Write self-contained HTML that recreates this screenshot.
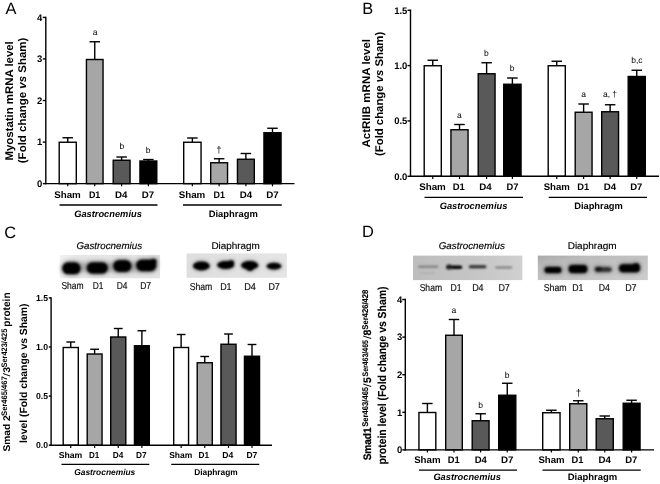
<!DOCTYPE html>
<html lang="en"><head><meta charset="utf-8"><title>Figure</title>
<style>html,body{margin:0;padding:0;background:#fff}body{width:660px;height:484px;overflow:hidden}svg{display:block;text-rendering:geometricPrecision;font-family:'Liberation Sans', sans-serif}</style>
</head><body>
<svg width="660" height="484" viewBox="0 0 660 484">
<defs>
<filter id="b1" x="-30%" y="-60%" width="160%" height="220%"><feGaussianBlur stdDeviation="1.25"/></filter>
<filter id="bh" x="-40%" y="-100%" width="180%" height="300%"><feGaussianBlur stdDeviation="2.2"/></filter>
<filter id="b2" x="-30%" y="-100%" width="160%" height="300%"><feGaussianBlur stdDeviation="0.85"/></filter>
<filter id="b3" x="-10%" y="-10%" width="120%" height="120%"><feGaussianBlur stdDeviation="0.6"/></filter>
<linearGradient id="gCG" x1="0" y1="0" x2="1" y2="0"><stop offset="0" stop-color="#f1f1f1"/><stop offset="0.15" stop-color="#e6e6e6"/><stop offset="1" stop-color="#e2e2e2"/></linearGradient>
<linearGradient id="gCD" x1="0" y1="0" x2="1" y2="0"><stop offset="0" stop-color="#dedede"/><stop offset="1" stop-color="#e5e5e5"/></linearGradient>
<linearGradient id="gDG" x1="0" y1="0" x2="1" y2="0"><stop offset="0" stop-color="#bdbdbd"/><stop offset="0.6" stop-color="#c6c6c6"/><stop offset="1" stop-color="#d0d0d0"/></linearGradient>
<linearGradient id="gDD" x1="0" y1="0" x2="1" y2="1"><stop offset="0" stop-color="#a9a9a9"/><stop offset="0.25" stop-color="#bcbcbc"/><stop offset="1" stop-color="#cdcdcd"/></linearGradient>
</defs>
<rect width="660" height="484" fill="#fff"/>
<g id="panelA">
<line x1="67.75" y1="137.75" x2="67.75" y2="142.25" stroke="#000" stroke-width="1.4"/>
<line x1="62.50" y1="137.75" x2="73.00" y2="137.75" stroke="#000" stroke-width="1.4"/>
<rect x="59.20" y="142.25" width="17.10" height="41.40" fill="#ffffff" stroke="#000" stroke-width="1.4"/>
<line x1="67.75" y1="183.65" x2="67.75" y2="186.35" stroke="#000" stroke-width="1.2"/>
<line x1="94.75" y1="41.75" x2="94.75" y2="59.50" stroke="#000" stroke-width="1.4"/>
<line x1="89.50" y1="41.75" x2="100.00" y2="41.75" stroke="#000" stroke-width="1.4"/>
<rect x="86.45" y="59.50" width="16.60" height="124.15" fill="#a6a6a6" stroke="#000" stroke-width="1.4"/>
<line x1="94.75" y1="183.65" x2="94.75" y2="186.35" stroke="#000" stroke-width="1.2"/>
<line x1="121.62" y1="157.00" x2="121.62" y2="160.25" stroke="#000" stroke-width="1.4"/>
<line x1="116.38" y1="157.00" x2="126.88" y2="157.00" stroke="#000" stroke-width="1.4"/>
<rect x="113.20" y="160.25" width="16.85" height="23.40" fill="#595959" stroke="#000" stroke-width="1.4"/>
<line x1="121.62" y1="183.65" x2="121.62" y2="186.35" stroke="#000" stroke-width="1.2"/>
<line x1="148.38" y1="159.55" x2="148.38" y2="161.00" stroke="#000" stroke-width="1.4"/>
<line x1="143.12" y1="159.55" x2="153.62" y2="159.55" stroke="#000" stroke-width="1.4"/>
<rect x="139.95" y="161.00" width="16.85" height="22.65" fill="#000000" stroke="#000" stroke-width="1.4"/>
<line x1="148.38" y1="183.65" x2="148.38" y2="186.35" stroke="#000" stroke-width="1.2"/>
<line x1="192.38" y1="138.00" x2="192.38" y2="142.25" stroke="#000" stroke-width="1.4"/>
<line x1="187.12" y1="138.00" x2="197.62" y2="138.00" stroke="#000" stroke-width="1.4"/>
<rect x="183.70" y="142.25" width="17.35" height="41.40" fill="#ffffff" stroke="#000" stroke-width="1.4"/>
<line x1="192.38" y1="183.65" x2="192.38" y2="186.35" stroke="#000" stroke-width="1.2"/>
<line x1="219.12" y1="158.75" x2="219.12" y2="162.75" stroke="#000" stroke-width="1.4"/>
<line x1="213.88" y1="158.75" x2="224.38" y2="158.75" stroke="#000" stroke-width="1.4"/>
<rect x="210.70" y="162.75" width="16.85" height="20.90" fill="#a6a6a6" stroke="#000" stroke-width="1.4"/>
<line x1="219.12" y1="183.65" x2="219.12" y2="186.35" stroke="#000" stroke-width="1.2"/>
<line x1="245.88" y1="153.50" x2="245.88" y2="159.25" stroke="#000" stroke-width="1.4"/>
<line x1="240.62" y1="153.50" x2="251.12" y2="153.50" stroke="#000" stroke-width="1.4"/>
<rect x="237.45" y="159.25" width="16.85" height="24.40" fill="#595959" stroke="#000" stroke-width="1.4"/>
<line x1="245.88" y1="183.65" x2="245.88" y2="186.35" stroke="#000" stroke-width="1.2"/>
<line x1="272.50" y1="128.25" x2="272.50" y2="132.75" stroke="#000" stroke-width="1.4"/>
<line x1="267.25" y1="128.25" x2="277.75" y2="128.25" stroke="#000" stroke-width="1.4"/>
<rect x="263.95" y="132.75" width="17.10" height="50.90" fill="#000000" stroke="#000" stroke-width="1.4"/>
<line x1="272.50" y1="183.65" x2="272.50" y2="186.35" stroke="#000" stroke-width="1.2"/>
<line x1="45.80" y1="16.70" x2="45.80" y2="184.35" stroke="#000" stroke-width="1.4"/>
<line x1="45.10" y1="183.65" x2="294.50" y2="183.65" stroke="#000" stroke-width="1.4"/>
<line x1="42.80" y1="183.65" x2="45.80" y2="183.65" stroke="#000" stroke-width="1.4"/>
<text font-size="9.5" font-weight="bold" text-anchor="end" x="42.40" y="187.02">0</text>
<line x1="42.80" y1="142.09" x2="45.80" y2="142.09" stroke="#000" stroke-width="1.4"/>
<text font-size="9.5" font-weight="bold" text-anchor="end" x="42.40" y="145.46">1</text>
<line x1="42.80" y1="100.53" x2="45.80" y2="100.53" stroke="#000" stroke-width="1.4"/>
<text font-size="9.5" font-weight="bold" text-anchor="end" x="42.40" y="103.90">2</text>
<line x1="42.80" y1="58.97" x2="45.80" y2="58.97" stroke="#000" stroke-width="1.4"/>
<text font-size="9.5" font-weight="bold" text-anchor="end" x="42.40" y="62.34">3</text>
<line x1="42.80" y1="17.41" x2="45.80" y2="17.41" stroke="#000" stroke-width="1.4"/>
<text font-size="9.5" font-weight="bold" text-anchor="end" x="42.40" y="20.78">4</text>
<text font-size="16.4" x="5.50" y="13.75">A</text>
<text font-size="11.2" font-weight="bold" textLength="119.32" lengthAdjust="spacingAndGlyphs" transform="translate(13.00 160.56) rotate(-90)">Myostatin mRNA level</text>
<text font-size="11.2" font-weight="bold" transform="translate(25.6 163.2) rotate(-90)" textLength="125.6" lengthAdjust="spacingAndGlyphs">(Fold change <tspan font-style="italic">vs</tspan> Sham)</text>
<text font-size="9.5" font-weight="bold" textLength="26.66" lengthAdjust="spacingAndGlyphs" x="54.17" y="197.50">Sham</text>
<text font-size="9.5" font-weight="bold" textLength="11.41" lengthAdjust="spacingAndGlyphs" x="88.92" y="197.50">D1</text>
<text font-size="9.5" font-weight="bold" textLength="12.41" lengthAdjust="spacingAndGlyphs" x="114.92" y="197.50">D4</text>
<text font-size="9.5" font-weight="bold" textLength="12.41" lengthAdjust="spacingAndGlyphs" x="141.67" y="197.50">D7</text>
<text font-size="9.5" font-weight="bold" textLength="26.66" lengthAdjust="spacingAndGlyphs" x="178.67" y="197.50">Sham</text>
<text font-size="9.5" font-weight="bold" textLength="11.36" lengthAdjust="spacingAndGlyphs" x="213.57" y="197.50">D1</text>
<text font-size="9.5" font-weight="bold" textLength="12.41" lengthAdjust="spacingAndGlyphs" x="239.67" y="197.50">D4</text>
<text font-size="9.5" font-weight="bold" textLength="12.46" lengthAdjust="spacingAndGlyphs" x="266.27" y="197.50">D7</text>
<line x1="59.50" y1="205.00" x2="157.50" y2="205.00" stroke="#000" stroke-width="1.4"/>
<line x1="183.00" y1="205.00" x2="281.75" y2="205.00" stroke="#000" stroke-width="1.4"/>
<text font-size="9.3" font-weight="bold" font-style="italic" textLength="67.65" lengthAdjust="spacingAndGlyphs" x="74.17" y="216.90">Gastrocnemius</text>
<text font-size="9.3" font-weight="bold" textLength="49.15" lengthAdjust="spacingAndGlyphs" x="208.67" y="217.00">Diaphragm</text>
<text font-size="8.5" text-anchor="middle" x="95.00" y="35.00">a</text>
<text font-size="8.5" text-anchor="middle" x="121.75" y="149.25">b</text>
<text font-size="8.5" text-anchor="middle" x="148.00" y="152.50">b</text>
<text font-size="9.6" text-anchor="middle" x="218.90" y="152.60">†</text>
</g>
<g id="panelB">
<line x1="432.75" y1="60.25" x2="432.75" y2="65.75" stroke="#000" stroke-width="1.4"/>
<line x1="427.50" y1="60.25" x2="438.00" y2="60.25" stroke="#000" stroke-width="1.4"/>
<rect x="424.20" y="65.75" width="17.10" height="110.55" fill="#ffffff" stroke="#000" stroke-width="1.4"/>
<line x1="432.75" y1="176.30" x2="432.75" y2="179.00" stroke="#000" stroke-width="1.2"/>
<line x1="459.50" y1="124.50" x2="459.50" y2="129.75" stroke="#000" stroke-width="1.4"/>
<line x1="454.25" y1="124.50" x2="464.75" y2="124.50" stroke="#000" stroke-width="1.4"/>
<rect x="450.95" y="129.75" width="17.10" height="46.55" fill="#a6a6a6" stroke="#000" stroke-width="1.4"/>
<line x1="459.50" y1="176.30" x2="459.50" y2="179.00" stroke="#000" stroke-width="1.2"/>
<line x1="486.62" y1="62.75" x2="486.62" y2="73.75" stroke="#000" stroke-width="1.4"/>
<line x1="481.38" y1="62.75" x2="491.88" y2="62.75" stroke="#000" stroke-width="1.4"/>
<rect x="478.20" y="73.75" width="16.85" height="102.55" fill="#595959" stroke="#000" stroke-width="1.4"/>
<line x1="486.62" y1="176.30" x2="486.62" y2="179.00" stroke="#000" stroke-width="1.2"/>
<line x1="512.38" y1="78.00" x2="512.38" y2="84.25" stroke="#000" stroke-width="1.4"/>
<line x1="507.12" y1="78.00" x2="517.62" y2="78.00" stroke="#000" stroke-width="1.4"/>
<rect x="503.70" y="84.25" width="17.35" height="92.05" fill="#000000" stroke="#000" stroke-width="1.4"/>
<line x1="512.38" y1="176.30" x2="512.38" y2="179.00" stroke="#000" stroke-width="1.2"/>
<line x1="556.75" y1="61.25" x2="556.75" y2="65.75" stroke="#000" stroke-width="1.4"/>
<line x1="551.50" y1="61.25" x2="562.00" y2="61.25" stroke="#000" stroke-width="1.4"/>
<rect x="548.20" y="65.75" width="17.10" height="110.55" fill="#ffffff" stroke="#000" stroke-width="1.4"/>
<line x1="556.75" y1="176.30" x2="556.75" y2="179.00" stroke="#000" stroke-width="1.2"/>
<line x1="583.62" y1="104.00" x2="583.62" y2="112.25" stroke="#000" stroke-width="1.4"/>
<line x1="578.38" y1="104.00" x2="588.88" y2="104.00" stroke="#000" stroke-width="1.4"/>
<rect x="575.20" y="112.25" width="16.85" height="64.05" fill="#a6a6a6" stroke="#000" stroke-width="1.4"/>
<line x1="583.62" y1="176.30" x2="583.62" y2="179.00" stroke="#000" stroke-width="1.2"/>
<line x1="610.12" y1="104.75" x2="610.12" y2="111.75" stroke="#000" stroke-width="1.4"/>
<line x1="604.88" y1="104.75" x2="615.38" y2="104.75" stroke="#000" stroke-width="1.4"/>
<rect x="601.70" y="111.75" width="16.85" height="64.55" fill="#595959" stroke="#000" stroke-width="1.4"/>
<line x1="610.12" y1="176.30" x2="610.12" y2="179.00" stroke="#000" stroke-width="1.2"/>
<line x1="636.75" y1="70.25" x2="636.75" y2="76.50" stroke="#000" stroke-width="1.4"/>
<line x1="631.50" y1="70.25" x2="642.00" y2="70.25" stroke="#000" stroke-width="1.4"/>
<rect x="628.20" y="76.50" width="17.10" height="99.80" fill="#000000" stroke="#000" stroke-width="1.4"/>
<line x1="636.75" y1="176.30" x2="636.75" y2="179.00" stroke="#000" stroke-width="1.2"/>
<line x1="410.50" y1="9.55" x2="410.50" y2="177.00" stroke="#000" stroke-width="1.4"/>
<line x1="409.80" y1="176.30" x2="659.00" y2="176.30" stroke="#000" stroke-width="1.4"/>
<line x1="407.50" y1="176.30" x2="410.50" y2="176.30" stroke="#000" stroke-width="1.4"/>
<text font-size="9.5" font-weight="bold" text-anchor="end" x="407.40" y="179.67">0.0</text>
<line x1="407.50" y1="120.95" x2="410.50" y2="120.95" stroke="#000" stroke-width="1.4"/>
<text font-size="9.5" font-weight="bold" text-anchor="end" x="407.40" y="124.32">0.5</text>
<line x1="407.50" y1="65.60" x2="410.50" y2="65.60" stroke="#000" stroke-width="1.4"/>
<text font-size="9.5" font-weight="bold" text-anchor="end" x="407.40" y="68.97">1.0</text>
<line x1="407.50" y1="10.25" x2="410.50" y2="10.25" stroke="#000" stroke-width="1.4"/>
<text font-size="9.5" font-weight="bold" text-anchor="end" x="407.40" y="13.62">1.5</text>
<text font-size="16.4" x="362.20" y="13.50">B</text>
<text font-size="11.2" font-weight="bold" textLength="108.62" lengthAdjust="spacingAndGlyphs" transform="translate(370.00 147.56) rotate(-90)">ActRIIB mRNA level</text>
<text font-size="11.2" font-weight="bold" transform="translate(383.3 156.0) rotate(-90)" textLength="124.2" lengthAdjust="spacingAndGlyphs">(Fold change <tspan font-style="italic">vs</tspan> Sham)</text>
<text font-size="9.5" font-weight="bold" textLength="26.66" lengthAdjust="spacingAndGlyphs" x="419.17" y="190.00">Sham</text>
<text font-size="9.5" font-weight="bold" textLength="12.16" lengthAdjust="spacingAndGlyphs" x="452.67" y="190.00">D1</text>
<text font-size="9.5" font-weight="bold" textLength="12.41" lengthAdjust="spacingAndGlyphs" x="479.17" y="190.00">D4</text>
<text font-size="9.5" font-weight="bold" textLength="11.91" lengthAdjust="spacingAndGlyphs" x="506.42" y="190.00">D7</text>
<text font-size="9.5" font-weight="bold" textLength="26.16" lengthAdjust="spacingAndGlyphs" x="543.67" y="190.00">Sham</text>
<text font-size="9.5" font-weight="bold" textLength="11.91" lengthAdjust="spacingAndGlyphs" x="577.17" y="190.00">D1</text>
<text font-size="9.5" font-weight="bold" textLength="12.41" lengthAdjust="spacingAndGlyphs" x="603.67" y="190.00">D4</text>
<text font-size="9.5" font-weight="bold" textLength="12.16" lengthAdjust="spacingAndGlyphs" x="630.17" y="190.00">D7</text>
<line x1="424.50" y1="197.40" x2="523.00" y2="197.40" stroke="#000" stroke-width="1.4"/>
<line x1="548.75" y1="197.40" x2="647.00" y2="197.40" stroke="#000" stroke-width="1.4"/>
<text font-size="9.3" font-weight="bold" font-style="italic" textLength="67.65" lengthAdjust="spacingAndGlyphs" x="439.67" y="209.30">Gastrocnemius</text>
<text font-size="9.3" font-weight="bold" textLength="48.65" lengthAdjust="spacingAndGlyphs" x="574.17" y="209.30">Diaphragm</text>
<text font-size="8.5" text-anchor="middle" x="459.25" y="117.75">a</text>
<text font-size="8.5" text-anchor="middle" x="486.25" y="56.00">b</text>
<text font-size="8.5" text-anchor="middle" x="512.00" y="71.00">b</text>
<text font-size="8.5" text-anchor="middle" x="583.50" y="97.00">a</text>
<text font-size="8.5" text-anchor="middle" x="610.00" y="97.00">a, †</text>
<text font-size="8.5" text-anchor="middle" x="636.90" y="63.20">b,c</text>
</g>
<g id="panelC">
<line x1="70.75" y1="342.00" x2="70.75" y2="347.50" stroke="#000" stroke-width="1.4"/>
<line x1="66.38" y1="342.00" x2="75.12" y2="342.00" stroke="#000" stroke-width="1.4"/>
<rect x="63.20" y="347.50" width="15.10" height="97.70" fill="#ffffff" stroke="#000" stroke-width="1.4"/>
<line x1="70.75" y1="445.20" x2="70.75" y2="447.90" stroke="#000" stroke-width="1.2"/>
<line x1="94.62" y1="349.25" x2="94.62" y2="354.00" stroke="#000" stroke-width="1.4"/>
<line x1="90.25" y1="349.25" x2="99.00" y2="349.25" stroke="#000" stroke-width="1.4"/>
<rect x="87.20" y="354.00" width="14.85" height="91.20" fill="#a6a6a6" stroke="#000" stroke-width="1.4"/>
<line x1="94.62" y1="445.20" x2="94.62" y2="447.90" stroke="#000" stroke-width="1.2"/>
<line x1="118.25" y1="328.50" x2="118.25" y2="337.00" stroke="#000" stroke-width="1.4"/>
<line x1="113.88" y1="328.50" x2="122.62" y2="328.50" stroke="#000" stroke-width="1.4"/>
<rect x="110.70" y="337.00" width="15.10" height="108.20" fill="#595959" stroke="#000" stroke-width="1.4"/>
<line x1="118.25" y1="445.20" x2="118.25" y2="447.90" stroke="#000" stroke-width="1.2"/>
<line x1="141.88" y1="330.75" x2="141.88" y2="345.75" stroke="#000" stroke-width="1.4"/>
<line x1="137.50" y1="330.75" x2="146.25" y2="330.75" stroke="#000" stroke-width="1.4"/>
<rect x="134.45" y="345.75" width="14.85" height="99.45" fill="#000000" stroke="#000" stroke-width="1.4"/>
<line x1="141.88" y1="445.20" x2="141.88" y2="447.90" stroke="#000" stroke-width="1.2"/>
<line x1="181.12" y1="334.50" x2="181.12" y2="347.50" stroke="#000" stroke-width="1.4"/>
<line x1="176.75" y1="334.50" x2="185.50" y2="334.50" stroke="#000" stroke-width="1.4"/>
<rect x="173.70" y="347.50" width="14.85" height="97.70" fill="#ffffff" stroke="#000" stroke-width="1.4"/>
<line x1="181.12" y1="445.20" x2="181.12" y2="447.90" stroke="#000" stroke-width="1.2"/>
<line x1="204.75" y1="356.50" x2="204.75" y2="362.75" stroke="#000" stroke-width="1.4"/>
<line x1="200.38" y1="356.50" x2="209.12" y2="356.50" stroke="#000" stroke-width="1.4"/>
<rect x="197.20" y="362.75" width="15.10" height="82.45" fill="#a6a6a6" stroke="#000" stroke-width="1.4"/>
<line x1="204.75" y1="445.20" x2="204.75" y2="447.90" stroke="#000" stroke-width="1.2"/>
<line x1="228.50" y1="334.00" x2="228.50" y2="344.25" stroke="#000" stroke-width="1.4"/>
<line x1="224.12" y1="334.00" x2="232.88" y2="334.00" stroke="#000" stroke-width="1.4"/>
<rect x="220.95" y="344.25" width="15.10" height="100.95" fill="#595959" stroke="#000" stroke-width="1.4"/>
<line x1="228.50" y1="445.20" x2="228.50" y2="447.90" stroke="#000" stroke-width="1.2"/>
<line x1="252.00" y1="344.50" x2="252.00" y2="356.25" stroke="#000" stroke-width="1.4"/>
<line x1="247.62" y1="344.50" x2="256.38" y2="344.50" stroke="#000" stroke-width="1.4"/>
<rect x="244.45" y="356.25" width="15.10" height="88.95" fill="#000000" stroke="#000" stroke-width="1.4"/>
<line x1="252.00" y1="445.20" x2="252.00" y2="447.90" stroke="#000" stroke-width="1.2"/>
<line x1="51.10" y1="297.20" x2="51.10" y2="445.90" stroke="#000" stroke-width="1.4"/>
<line x1="50.40" y1="445.20" x2="272.00" y2="445.20" stroke="#000" stroke-width="1.4"/>
<line x1="48.80" y1="445.20" x2="51.10" y2="445.20" stroke="#000" stroke-width="1.4"/>
<text font-size="8.7" font-weight="bold" text-anchor="end" x="48.10" y="448.29">0.0</text>
<line x1="48.80" y1="396.10" x2="51.10" y2="396.10" stroke="#000" stroke-width="1.4"/>
<text font-size="8.7" font-weight="bold" text-anchor="end" x="48.10" y="399.19">0.5</text>
<line x1="48.80" y1="347.00" x2="51.10" y2="347.00" stroke="#000" stroke-width="1.4"/>
<text font-size="8.7" font-weight="bold" text-anchor="end" x="48.10" y="350.09">1.0</text>
<line x1="48.80" y1="297.90" x2="51.10" y2="297.90" stroke="#000" stroke-width="1.4"/>
<text font-size="8.7" font-weight="bold" text-anchor="end" x="48.10" y="300.99">1.5</text>
<text font-size="16.4" x="4.20" y="238.00">C</text>
<text font-size="9.8" font-weight="bold" textLength="36.28" lengthAdjust="spacingAndGlyphs" transform="translate(10.20 451.59) rotate(-90)">Smad 2</text>
<text font-size="8.0" font-weight="bold" textLength="39.70" lengthAdjust="spacingAndGlyphs" transform="translate(7.10 415.90) rotate(-90)">Ser465/467</text>
<text font-size="9.8" textLength="3.60" lengthAdjust="spacingAndGlyphs" transform="translate(10.20 376.50) rotate(-90)">/</text>
<text font-size="9.8" font-weight="bold" textLength="5.90" lengthAdjust="spacingAndGlyphs" transform="translate(10.20 372.80) rotate(-90)">3</text>
<text font-size="8.0" font-weight="bold" textLength="39.00" lengthAdjust="spacingAndGlyphs" transform="translate(7.10 367.60) rotate(-90)">Ser423/425</text>
<text font-size="10.4" font-weight="bold" textLength="34.34" lengthAdjust="spacingAndGlyphs" transform="translate(10.30 326.72) rotate(-90)">protein</text>
<text font-size="10.4" font-weight="bold" textLength="139.54" lengthAdjust="spacingAndGlyphs" transform="translate(27.20 443.02) rotate(-90)">level (Fold change vs Sham)</text>
<text font-size="8.6" font-weight="bold" textLength="23.60" lengthAdjust="spacingAndGlyphs" x="58.70" y="458.00">Sham</text>
<text font-size="8.6" font-weight="bold" textLength="10.35" lengthAdjust="spacingAndGlyphs" x="88.95" y="458.00">D1</text>
<text font-size="8.6" font-weight="bold" textLength="10.60" lengthAdjust="spacingAndGlyphs" x="112.70" y="458.00">D4</text>
<text font-size="8.6" font-weight="bold" textLength="10.60" lengthAdjust="spacingAndGlyphs" x="135.95" y="458.00">D7</text>
<text font-size="8.6" font-weight="bold" textLength="23.10" lengthAdjust="spacingAndGlyphs" x="169.20" y="458.00">Sham</text>
<text font-size="8.6" font-weight="bold" textLength="10.60" lengthAdjust="spacingAndGlyphs" x="198.45" y="458.00">D1</text>
<text font-size="8.6" font-weight="bold" textLength="11.10" lengthAdjust="spacingAndGlyphs" x="222.20" y="458.00">D4</text>
<text font-size="8.6" font-weight="bold" textLength="10.85" lengthAdjust="spacingAndGlyphs" x="246.45" y="458.00">D7</text>
<line x1="61.50" y1="464.40" x2="149.25" y2="464.40" stroke="#000" stroke-width="1.3"/>
<line x1="171.25" y1="464.40" x2="259.25" y2="464.40" stroke="#000" stroke-width="1.3"/>
<text font-size="8.5" font-weight="bold" font-style="italic" textLength="61.09" lengthAdjust="spacingAndGlyphs" x="74.20" y="474.75">Gastrocnemius</text>
<text font-size="8.5" font-weight="bold" textLength="43.59" lengthAdjust="spacingAndGlyphs" x="194.20" y="474.75">Diaphragm</text>
<text font-size="9.8" font-style="italic" textLength="65.69" lengthAdjust="spacingAndGlyphs" x="76.41" y="249.00" stroke="#000" stroke-width="0.15">Gastrocnemius</text>
<g filter="url(#b3)"><rect x="59.8" y="255" width="100.2" height="23.3" fill="url(#gCG)"/></g>
<g filter="url(#bh)"><rect x="64" y="262" width="92" height="10" rx="5" fill="#777" opacity="0.45"/></g>
<g filter="url(#bh)" fill="#4a4a4a" opacity="0.75">
<rect x="61.4" y="261.7" width="20.0" height="13.2" rx="6.6"/>
<rect x="85.9" y="261.8" width="22.8" height="12.4" rx="6.2"/>
<rect x="112.3" y="259.4" width="20.0" height="13.2" rx="6.6"/>
<rect x="135.3" y="258.9" width="22.0" height="12.8" rx="6.4"/>
<rect x="149.5" y="258.1" width="8.0" height="6.8" rx="3.4"/>
</g>
<g filter="url(#b1)">
<rect x="62.4" y="262.5" width="18.0" height="11.6" rx="5.8" fill="#030303"/>
<rect x="86.9" y="262.6" width="20.8" height="10.8" rx="5.4" fill="#030303"/>
<rect x="113.3" y="260.2" width="18.0" height="11.6" rx="5.8" fill="#030303"/>
<rect x="136.3" y="259.7" width="20.0" height="11.2" rx="5.6" fill="#030303"/>
<rect x="150.5" y="258.9" width="6.0" height="5.2" rx="2.6" fill="#030303"/>
</g>
<text font-size="10" textLength="22.20" lengthAdjust="spacingAndGlyphs" fill="#111" x="61.40" y="289.30" stroke="#111" stroke-width="0.18">Sham</text>
<text font-size="10" textLength="10.70" lengthAdjust="spacingAndGlyphs" fill="#111" x="92.65" y="289.30" stroke="#111" stroke-width="0.18">D1</text>
<text font-size="10" textLength="10.70" lengthAdjust="spacingAndGlyphs" fill="#111" x="116.65" y="289.30" stroke="#111" stroke-width="0.18">D4</text>
<text font-size="10" textLength="10.95" lengthAdjust="spacingAndGlyphs" fill="#111" x="140.15" y="289.30" stroke="#111" stroke-width="0.18">D7</text>
<text font-size="9.8" textLength="48.44" lengthAdjust="spacingAndGlyphs" x="211.41" y="248.50" stroke="#000" stroke-width="0.15">Diaphragm</text>
<g filter="url(#b3)"><rect x="186.6" y="253.4" width="100.3" height="24.4" fill="url(#gCD)"/></g>
<g filter="url(#bh)" fill="#4a4a4a" opacity="0.45">
<ellipse cx="201.4" cy="265.9" rx="9.0" ry="5.1"/>
<ellipse cx="225.7" cy="265.0" rx="9.2" ry="4.6"/>
<ellipse cx="231.0" cy="262.6" rx="3.7" ry="2.9"/>
<ellipse cx="249.7" cy="265.2" rx="9.2" ry="4.9"/>
<ellipse cx="250.0" cy="268.0" rx="4.2" ry="3.5"/>
<ellipse cx="274.0" cy="266.2" rx="7.9" ry="4.0"/>
</g>
<g filter="url(#b1)">
<ellipse cx="201.4" cy="265.9" rx="8.4" ry="4.5" fill="#030303"/>
<ellipse cx="225.7" cy="265.0" rx="8.6" ry="4.0" fill="#030303"/>
<ellipse cx="231.0" cy="262.6" rx="3.1" ry="2.3" fill="#030303"/>
<ellipse cx="249.7" cy="265.2" rx="8.6" ry="4.3" fill="#030303"/>
<ellipse cx="250.0" cy="268.0" rx="3.6" ry="2.9" fill="#030303"/>
<ellipse cx="274.0" cy="266.2" rx="7.3" ry="3.4" fill="#030303"/>
</g>
<text font-size="10" textLength="22.70" lengthAdjust="spacingAndGlyphs" fill="#111" x="189.65" y="289.70" stroke="#111" stroke-width="0.18">Sham</text>
<text font-size="10" textLength="11.45" lengthAdjust="spacingAndGlyphs" fill="#111" x="220.15" y="289.70" stroke="#111" stroke-width="0.18">D1</text>
<text font-size="10" textLength="11.70" lengthAdjust="spacingAndGlyphs" fill="#111" x="244.15" y="289.70" stroke="#111" stroke-width="0.18">D4</text>
<text font-size="10" textLength="11.45" lengthAdjust="spacingAndGlyphs" fill="#111" x="268.40" y="289.70" stroke="#111" stroke-width="0.18">D7</text>
</g>
<g id="panelD">
<line x1="427.38" y1="403.50" x2="427.38" y2="412.50" stroke="#000" stroke-width="1.4"/>
<line x1="422.12" y1="403.50" x2="432.62" y2="403.50" stroke="#000" stroke-width="1.4"/>
<rect x="418.95" y="412.50" width="16.85" height="37.40" fill="#ffffff" stroke="#000" stroke-width="1.4"/>
<line x1="427.38" y1="449.90" x2="427.38" y2="452.60" stroke="#000" stroke-width="1.2"/>
<line x1="454.00" y1="319.50" x2="454.00" y2="335.25" stroke="#000" stroke-width="1.4"/>
<line x1="448.75" y1="319.50" x2="459.25" y2="319.50" stroke="#000" stroke-width="1.4"/>
<rect x="445.70" y="335.25" width="16.60" height="114.65" fill="#a6a6a6" stroke="#000" stroke-width="1.4"/>
<line x1="454.00" y1="449.90" x2="454.00" y2="452.60" stroke="#000" stroke-width="1.2"/>
<line x1="480.62" y1="413.75" x2="480.62" y2="420.75" stroke="#000" stroke-width="1.4"/>
<line x1="475.38" y1="413.75" x2="485.88" y2="413.75" stroke="#000" stroke-width="1.4"/>
<rect x="472.20" y="420.75" width="16.85" height="29.15" fill="#595959" stroke="#000" stroke-width="1.4"/>
<line x1="480.62" y1="449.90" x2="480.62" y2="452.60" stroke="#000" stroke-width="1.2"/>
<line x1="507.25" y1="383.25" x2="507.25" y2="395.25" stroke="#000" stroke-width="1.4"/>
<line x1="502.00" y1="383.25" x2="512.50" y2="383.25" stroke="#000" stroke-width="1.4"/>
<rect x="498.70" y="395.25" width="17.10" height="54.65" fill="#000000" stroke="#000" stroke-width="1.4"/>
<line x1="507.25" y1="449.90" x2="507.25" y2="452.60" stroke="#000" stroke-width="1.2"/>
<line x1="551.38" y1="410.25" x2="551.38" y2="412.75" stroke="#000" stroke-width="1.4"/>
<line x1="546.12" y1="410.25" x2="556.62" y2="410.25" stroke="#000" stroke-width="1.4"/>
<rect x="542.70" y="412.75" width="17.35" height="37.15" fill="#ffffff" stroke="#000" stroke-width="1.4"/>
<line x1="551.38" y1="449.90" x2="551.38" y2="452.60" stroke="#000" stroke-width="1.2"/>
<line x1="578.25" y1="400.75" x2="578.25" y2="403.75" stroke="#000" stroke-width="1.4"/>
<line x1="573.00" y1="400.75" x2="583.50" y2="400.75" stroke="#000" stroke-width="1.4"/>
<rect x="569.70" y="403.75" width="17.10" height="46.15" fill="#a6a6a6" stroke="#000" stroke-width="1.4"/>
<line x1="578.25" y1="449.90" x2="578.25" y2="452.60" stroke="#000" stroke-width="1.2"/>
<line x1="604.75" y1="416.00" x2="604.75" y2="418.75" stroke="#000" stroke-width="1.4"/>
<line x1="599.50" y1="416.00" x2="610.00" y2="416.00" stroke="#000" stroke-width="1.4"/>
<rect x="596.20" y="418.75" width="17.10" height="31.15" fill="#595959" stroke="#000" stroke-width="1.4"/>
<line x1="604.75" y1="449.90" x2="604.75" y2="452.60" stroke="#000" stroke-width="1.2"/>
<line x1="631.62" y1="400.25" x2="631.62" y2="403.25" stroke="#000" stroke-width="1.4"/>
<line x1="626.38" y1="400.25" x2="636.88" y2="400.25" stroke="#000" stroke-width="1.4"/>
<rect x="623.20" y="403.25" width="16.85" height="46.65" fill="#000000" stroke="#000" stroke-width="1.4"/>
<line x1="631.62" y1="449.90" x2="631.62" y2="452.60" stroke="#000" stroke-width="1.2"/>
<line x1="405.30" y1="298.70" x2="405.30" y2="450.60" stroke="#000" stroke-width="1.4"/>
<line x1="404.60" y1="449.90" x2="654.00" y2="449.90" stroke="#000" stroke-width="1.4"/>
<line x1="402.30" y1="449.90" x2="405.30" y2="449.90" stroke="#000" stroke-width="1.4"/>
<text font-size="9.5" font-weight="bold" text-anchor="end" x="402.20" y="453.27">0</text>
<line x1="402.30" y1="412.30" x2="405.30" y2="412.30" stroke="#000" stroke-width="1.4"/>
<text font-size="9.5" font-weight="bold" text-anchor="end" x="402.20" y="415.67">1</text>
<line x1="402.30" y1="374.70" x2="405.30" y2="374.70" stroke="#000" stroke-width="1.4"/>
<text font-size="9.5" font-weight="bold" text-anchor="end" x="402.20" y="378.07">2</text>
<line x1="402.30" y1="337.10" x2="405.30" y2="337.10" stroke="#000" stroke-width="1.4"/>
<text font-size="9.5" font-weight="bold" text-anchor="end" x="402.20" y="340.47">3</text>
<line x1="402.30" y1="299.50" x2="405.30" y2="299.50" stroke="#000" stroke-width="1.4"/>
<text font-size="9.5" font-weight="bold" text-anchor="end" x="402.20" y="302.87">4</text>
<text font-size="16.4" x="362.00" y="237.00">D</text>
<text font-size="10.8" font-weight="bold" textLength="32.88" lengthAdjust="spacingAndGlyphs" transform="translate(371.20 460.34) rotate(-90)" stroke="#000" stroke-width="0.25">Smad1</text>
<text font-size="8.3" font-weight="bold" textLength="39.83" lengthAdjust="spacingAndGlyphs" transform="translate(367.60 426.72) rotate(-90)" stroke="#000" stroke-width="0.12">Ser463/465</text>
<text font-size="10.8" textLength="3.40" lengthAdjust="spacingAndGlyphs" transform="translate(371.20 387.00) rotate(-90)">/</text>
<text font-size="10.8" font-weight="bold" textLength="5.80" lengthAdjust="spacingAndGlyphs" transform="translate(371.20 383.00) rotate(-90)" stroke="#000" stroke-width="0.2">5</text>
<text font-size="8.0" font-weight="bold" textLength="36.40" lengthAdjust="spacingAndGlyphs" transform="translate(367.50 376.50) rotate(-90)" stroke="#000" stroke-width="0.12">Ser463/465</text>
<text font-size="10.8" textLength="3.40" lengthAdjust="spacingAndGlyphs" transform="translate(371.20 339.00) rotate(-90)">/</text>
<text font-size="10.8" font-weight="bold" textLength="5.80" lengthAdjust="spacingAndGlyphs" transform="translate(371.20 335.40) rotate(-90)" stroke="#000" stroke-width="0.2">8</text>
<text font-size="8.3" font-weight="bold" textLength="40.03" lengthAdjust="spacingAndGlyphs" transform="translate(367.60 329.72) rotate(-90)" stroke="#000" stroke-width="0.12">Ser426/428</text>
<text font-size="11.6" font-weight="bold" textLength="177.96" lengthAdjust="spacingAndGlyphs" transform="translate(385.80 464.58) rotate(-90)" stroke="#000" stroke-width="0.12">protein level (Fold change vs Sham)</text>
<text font-size="9.5" font-weight="bold" textLength="26.41" lengthAdjust="spacingAndGlyphs" x="414.17" y="462.50">Sham</text>
<text font-size="9.5" font-weight="bold" textLength="11.91" lengthAdjust="spacingAndGlyphs" x="447.67" y="462.50">D1</text>
<text font-size="9.5" font-weight="bold" textLength="12.16" lengthAdjust="spacingAndGlyphs" x="474.67" y="462.50">D4</text>
<text font-size="9.5" font-weight="bold" textLength="12.41" lengthAdjust="spacingAndGlyphs" x="500.92" y="462.50">D7</text>
<text font-size="9.5" font-weight="bold" textLength="26.16" lengthAdjust="spacingAndGlyphs" x="538.42" y="462.50">Sham</text>
<text font-size="9.5" font-weight="bold" textLength="11.91" lengthAdjust="spacingAndGlyphs" x="571.42" y="462.50">D1</text>
<text font-size="9.5" font-weight="bold" textLength="12.41" lengthAdjust="spacingAndGlyphs" x="598.42" y="462.50">D4</text>
<text font-size="9.5" font-weight="bold" textLength="12.16" lengthAdjust="spacingAndGlyphs" x="625.17" y="462.50">D7</text>
<line x1="419.00" y1="470.10" x2="517.00" y2="470.10" stroke="#000" stroke-width="1.4"/>
<line x1="542.50" y1="470.10" x2="640.75" y2="470.10" stroke="#000" stroke-width="1.4"/>
<text font-size="9.3" font-weight="bold" font-style="italic" textLength="67.40" lengthAdjust="spacingAndGlyphs" x="433.42" y="480.40">Gastrocnemius</text>
<text font-size="9.3" font-weight="bold" textLength="49.65" lengthAdjust="spacingAndGlyphs" x="567.67" y="480.40">Diaphragm</text>
<text font-size="8.5" text-anchor="middle" x="453.75" y="312.70">a</text>
<text font-size="8.5" text-anchor="middle" x="480.50" y="408.00">b</text>
<text font-size="8.5" text-anchor="middle" x="507.00" y="377.50">b</text>
<text font-size="9.6" text-anchor="middle" x="578.40" y="395.90">†</text>
<text font-size="9.8" font-style="italic" textLength="66.19" lengthAdjust="spacingAndGlyphs" x="438.66" y="248.50" stroke="#000" stroke-width="0.15">Gastrocnemius</text>
<g filter="url(#b3)"><rect x="413" y="255.6" width="109.3" height="24.5" fill="url(#gDG)"/></g>
<g filter="url(#b2)">
<rect x="418" y="265.4" width="20.5" height="2.5" rx="1.2" fill="#858585"/>
<rect x="419" y="272.6" width="16" height="1.6" rx="0.8" fill="#b0b0b0"/>
<rect x="446.2" y="265.4" width="16" height="3.7" rx="1.8" fill="#060606"/>
<rect x="446.2" y="264.6" width="6" height="5.0" rx="2.5" fill="#1a1a1a"/>
<rect x="468.8" y="265.2" width="17.6" height="3.0" rx="1.5" fill="#2a2a2a"/>
<rect x="495.2" y="266.5" width="17" height="2.1" rx="1.0" fill="#787878"/>
</g>
<text font-size="10" textLength="22.45" lengthAdjust="spacingAndGlyphs" fill="#111" x="419.65" y="291.00" stroke="#111" stroke-width="0.18">Sham</text>
<text font-size="10" textLength="11.10" lengthAdjust="spacingAndGlyphs" fill="#111" x="450.45" y="291.00" stroke="#111" stroke-width="0.18">D1</text>
<text font-size="10" textLength="11.45" lengthAdjust="spacingAndGlyphs" fill="#111" x="472.15" y="291.00" stroke="#111" stroke-width="0.18">D4</text>
<text font-size="10" textLength="11.45" lengthAdjust="spacingAndGlyphs" fill="#111" x="498.40" y="291.00" stroke="#111" stroke-width="0.18">D7</text>
<text font-size="9.8" textLength="48.94" lengthAdjust="spacingAndGlyphs" x="567.66" y="248.50" stroke="#000" stroke-width="0.15">Diaphragm</text>
<g filter="url(#b3)"><rect x="537.8" y="255.6" width="110" height="24.5" fill="url(#gDD)"/></g>
<g filter="url(#bh)" fill="#4a4a4a" opacity="0.7">
<rect x="543.6" y="266.3" width="18.8" height="7.4" rx="3.7"/>
<rect x="567.6" y="264.2" width="20.8" height="9.6" rx="4.8"/>
<rect x="594.4" y="266.8" width="18.0" height="5.6" rx="2.8"/>
<rect x="594.0" y="266.1" width="9.0" height="6.2" rx="3.1"/>
<rect x="618.1" y="263.5" width="22.8" height="9.6" rx="4.8"/>
<rect x="631.5" y="262.5" width="9.0" height="8.0" rx="4.0"/>
</g>
<g filter="url(#b1)">
<rect x="544.6" y="267.1" width="16.8" height="5.8" rx="2.9" fill="#030303"/>
<rect x="568.6" y="265.0" width="18.8" height="8.0" rx="4.0" fill="#030303"/>
<rect x="595.4" y="267.6" width="16.0" height="4.0" rx="2.0" fill="#2e2e2e"/>
<rect x="595.0" y="266.9" width="7.0" height="4.6" rx="2.3" fill="#161616"/>
<rect x="619.1" y="264.3" width="20.8" height="8.0" rx="4.0" fill="#030303"/>
<rect x="632.5" y="263.3" width="7.0" height="6.4" rx="3.2" fill="#030303"/>
</g>
<text font-size="10" textLength="22.95" lengthAdjust="spacingAndGlyphs" fill="#111" x="543.65" y="291.00" stroke="#111" stroke-width="0.18">Sham</text>
<text font-size="10" textLength="11.20" lengthAdjust="spacingAndGlyphs" fill="#111" x="572.15" y="291.00" stroke="#111" stroke-width="0.18">D1</text>
<text font-size="10" textLength="11.20" lengthAdjust="spacingAndGlyphs" fill="#111" x="598.65" y="291.00" stroke="#111" stroke-width="0.18">D4</text>
<text font-size="10" textLength="11.45" lengthAdjust="spacingAndGlyphs" fill="#111" x="625.15" y="291.00" stroke="#111" stroke-width="0.18">D7</text>
</g>
</svg>
</body></html>
